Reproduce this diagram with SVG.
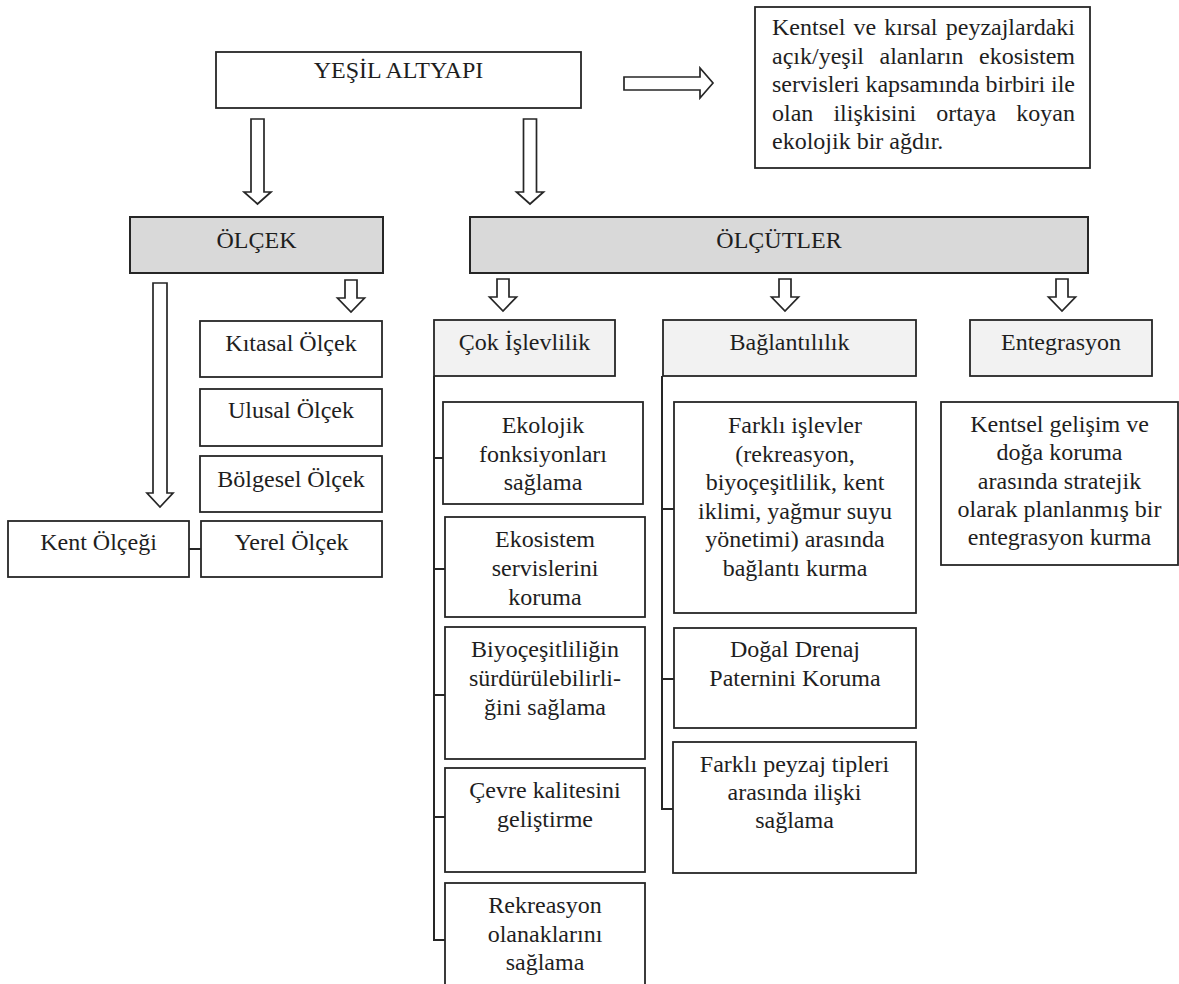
<svg xmlns="http://www.w3.org/2000/svg" width="1179" height="984" viewBox="0 0 1179 984" font-family="'Liberation Serif', Tinos, 'DejaVu Serif', serif">
<style>
  .box { fill: #ffffff; stroke: #262626; stroke-width: 1.8; }
  .main { fill: #d9d9d9; stroke: #262626; stroke-width: 2; }
  .sub { fill: #f2f2f2; stroke: #262626; stroke-width: 1.8; }
  .arrow { fill: #ffffff; stroke: #262626; stroke-width: 1.7; stroke-linejoin: miter; }
  .line { fill: none; stroke: #262626; stroke-width: 2; }
  text { font-family: 'Liberation Serif', Tinos, 'DejaVu Serif', serif; font-size: 24px; fill: #1e1e1e; }
  .c { text-anchor: middle; }
</style>
<defs>
  <path id="smallDown" d="M-6,0 H6 V18 H13.5 L0,32 L-13.5,18 H-6 Z"/>
  <path id="bigDown" d="M-6.5,0 H6.5 V73 H13.5 L0,85 L-13.5,73 H-6.5 Z"/>
</defs>

<g id="connectors">
  <path class="arrow" d="M624,77 H700 V68 L713,83 L700,98 V90 H624 Z"/>
  <use href="#bigDown" class="arrow" transform="translate(257.5,119)"/>
  <use href="#bigDown" class="arrow" transform="translate(530,119)"/>
  <path class="arrow" d="M153,283 H167 V493 H173 L160,507 L147,493 H153 Z"/>
  <use href="#smallDown" class="arrow" transform="translate(351,280)"/>
  <use href="#smallDown" class="arrow" transform="translate(503,279)"/>
  <use href="#smallDown" class="arrow" transform="translate(785,279)"/>
  <use href="#smallDown" class="arrow" transform="translate(1062,279)"/>
  <path class="line" d="M189,549 H201"/>
  <path class="line" d="M434,376 V940 H445 M434,458 H443 M434,569 H445 M434,695 H445 M434,817 H445"/>
  <path class="line" d="M662,376 V809 H673 M662,509 H674 M662,679 H674"/>
</g>

<g id="node-yesil-altyapi">
  <rect class="box" x="216" y="52" width="365" height="56"/>
  <text class="c" x="398.5" y="78">YEŞİL ALTYAPI</text>
</g>

<g id="node-tanim">
  <rect class="box" x="755" y="7" width="335" height="161"/>
  <text x="772" y="35">Kentsel</text>
  <text x="853.4" y="35">ve</text>
  <text x="884.2" y="35">kırsal</text>
  <text x="1075" y="35" text-anchor="end">peyzajlardaki</text>
  <text x="772" y="63.5">açık/yeşil</text>
  <text x="879.5" y="63.5">alanların</text>
  <text x="1075" y="63.5" text-anchor="end">ekosistem</text>
  <text x="772" y="92" textLength="303" lengthAdjust="spacing">servisleri kapsamında birbiri ile</text>
  <text x="772" y="120.5">olan</text>
  <text x="833.4" y="120.5">ilişkisini</text>
  <text x="936.2" y="120.5">ortaya</text>
  <text x="1075" y="120.5" text-anchor="end">koyan</text>
  <text x="772" y="149">ekolojik bir ağdır.</text>
</g>

<g id="node-olcek">
  <rect class="main" x="130" y="217" width="253" height="56"/>
  <text class="c" x="256.5" y="248">ÖLÇEK</text>
</g>

<g id="node-olcutler">
  <rect class="main" x="470" y="217" width="618" height="56"/>
  <text class="c" x="779" y="248">ÖLÇÜTLER</text>
</g>

<g id="node-kitasal">
  <rect class="box" x="200" y="321" width="182" height="56"/>
  <text class="c" x="291" y="351">Kıtasal Ölçek</text>
</g>
<g id="node-ulusal">
  <rect class="box" x="200" y="389" width="182" height="57"/>
  <text class="c" x="291" y="418">Ulusal Ölçek</text>
</g>
<g id="node-bolgesel">
  <rect class="box" x="200" y="456" width="182" height="56"/>
  <text class="c" x="291" y="487">Bölgesel Ölçek</text>
</g>
<g id="node-yerel">
  <rect class="box" x="201" y="521" width="181" height="56"/>
  <text class="c" x="291.5" y="550">Yerel Ölçek</text>
</g>
<g id="node-kent">
  <rect class="box" x="8" y="521" width="181" height="56"/>
  <text class="c" x="98.5" y="550">Kent Ölçeği</text>
</g>

<g id="node-cok-islevlilik">
  <rect class="sub" x="434" y="320" width="181" height="56"/>
  <text class="c" x="524.5" y="350">Çok İşlevlilik</text>
</g>
<g id="node-baglantililik">
  <rect class="sub" x="663" y="320" width="253" height="56"/>
  <text class="c" x="789.5" y="350">Bağlantılılık</text>
</g>
<g id="node-entegrasyon">
  <rect class="sub" x="970" y="320" width="182" height="56"/>
  <text class="c" x="1061" y="350">Entegrasyon</text>
</g>

<g id="node-ekolojik">
  <rect class="box" x="443" y="402" width="200" height="102"/>
  <text class="c" x="543" y="433">Ekolojik</text>
  <text class="c" x="543" y="461.5">fonksiyonları</text>
  <text class="c" x="543" y="490">sağlama</text>
</g>
<g id="node-ekosistem">
  <rect class="box" x="445" y="517" width="200" height="100"/>
  <text class="c" x="545" y="547">Ekosistem</text>
  <text class="c" x="545" y="576">servislerini</text>
  <text class="c" x="545" y="605">koruma</text>
</g>
<g id="node-biyocesitlilik">
  <rect class="box" x="445" y="627" width="200" height="132"/>
  <text class="c" x="545" y="657">Biyoçeşitliliğin</text>
  <text class="c" x="545" y="686">sürdürülebilirli-</text>
  <text class="c" x="545" y="715">ğini sağlama</text>
</g>
<g id="node-cevre">
  <rect class="box" x="445" y="768" width="200" height="104"/>
  <text class="c" x="545" y="798">Çevre kalitesini</text>
  <text class="c" x="545" y="827">geliştirme</text>
</g>
<g id="node-rekreasyon">
  <rect class="box" x="445" y="883" width="200" height="110"/>
  <text class="c" x="545" y="913">Rekreasyon</text>
  <text class="c" x="545" y="942">olanaklarını</text>
  <text class="c" x="545" y="970">sağlama</text>
</g>

<g id="node-farkli-islevler">
  <rect class="box" x="674" y="402" width="242" height="211"/>
  <text class="c" x="795" y="433">Farklı işlevler</text>
  <text class="c" x="795" y="461.5">(rekreasyon,</text>
  <text class="c" x="795" y="490">biyoçeşitlilik, kent</text>
  <text class="c" x="795" y="518.5">iklimi, yağmur suyu</text>
  <text class="c" x="795" y="547">yönetimi) arasında</text>
  <text class="c" x="795" y="575.5">bağlantı kurma</text>
</g>
<g id="node-dogal-drenaj">
  <rect class="box" x="674" y="628" width="242" height="100"/>
  <text class="c" x="795" y="657">Doğal Drenaj</text>
  <text class="c" x="795" y="686">Paternini Koruma</text>
</g>
<g id="node-farkli-peyzaj">
  <rect class="box" x="673" y="742" width="243" height="131"/>
  <text class="c" x="794.5" y="772">Farklı peyzaj tipleri</text>
  <text class="c" x="794.5" y="800">arasında ilişki</text>
  <text class="c" x="794.5" y="828">sağlama</text>
</g>

<g id="node-entegrasyon-aciklama">
  <rect class="box" x="941" y="402" width="237" height="163"/>
  <text class="c" x="1059.5" y="432">Kentsel gelişim ve</text>
  <text class="c" x="1059.5" y="460">doğa koruma</text>
  <text class="c" x="1059.5" y="489">arasında stratejik</text>
  <text class="c" x="1059.5" y="517">olarak planlanmış bir</text>
  <text class="c" x="1059.5" y="545">entegrasyon kurma</text>
</g>
</svg>
